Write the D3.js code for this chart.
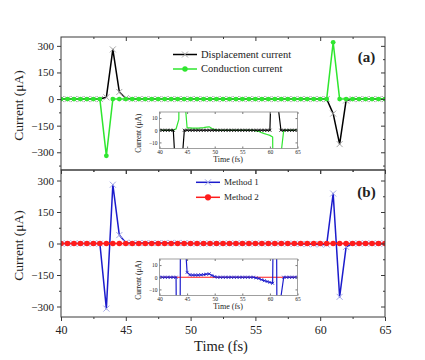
<!DOCTYPE html>
<html>
<head>
<meta charset="utf-8">
<script src="https://cdn.jsdelivr.net/npm/d3@7"></script>
<style>
  body { margin: 0; background: #fff; }
  svg text { font-family: "Liberation Serif", "Times New Roman", serif; }
</style>
</head>
<body>
<div id="chart"></div>
<script>
// time axis, 0.5 fs steps
let times = [40, 40.5, 41, 41.5, 42, 42.5, 43, 43.5, 44, 44.5,
             45, 45.5, 46, 46.5, 47, 47.5, 48, 48.5, 49, 49.5,
             50, 50.5, 51, 51.5, 52, 52.5, 53, 53.5, 54, 54.5,
             55, 55.5, 56, 56.5, 57, 57.5, 58, 58.5, 59, 59.5,
             60, 60.5, 61, 61.5, 62, 62.5, 63, 63.5, 64, 64.5, 65];

// panel (a)
let displacement = [0, 0, 0, 0, 0, 0, 0, 10, 280, 40,
                    5, 0, 0, 0, 0, 0, 0, 0, 0, 0,
                    0, 0, 0, 0, 0, 0, 0, 0, 0, 0,
                    0, 0, 0, 0, 0, 0, 0, 0, 0, 0,
                    0, 0, -82, -254, -8, 0, 0, 0, 0, 0, 0];
let conduction = [0, 0, 0, 0, 0, 0, 0, -320, 0, 0,
                  0, 0, 0, 0, 0, 0, 0, 0, 0, 0,
                  0, 0, 0, 0, 0, 0, 0, 0, 0, 0,
                  0, 0, 0, 0, 0, 0, 0, 0, 0, 0,
                  0, 0, 320, 0, 0, 0, 0, 0, 0, 0, 0];
// inset of (a)
let displacementInset = [0, 0, 0, 0, 0, 0, -40, -280, -30, 0,
                         0, 0, 0, 0, 0, 0, 0, 0, 0, 0,
                         0, 0, 0, 0, 0, 0, 0, 0, 0, 0,
                         0, 0, 0, 0, 0, 0, 0, 0, 0, 0,
                         0, 80, 250, 19, 0, 0, 0, 0, 0, 0, 0];
let conductionInset = [0, 0, 0, 0, 0, 0, 1, 9, 300, 30,
                       2, 2, 1.8, 1.8, 1.8, 2, 2.2, 2.5, 2.8, 1.5,
                       0.5, 0, 0, 0, 0, 0, 0, 0, 0, 0,
                       0, 0, 0, 0, 0, -0.5, -1, -2, -2.8, -3.5,
                       -4.2, -5.5, -300, -150, -20, 0, 0, 0, 0, 0, 0];

// panel (b)
let method1 = [0, 0, 0, 0, 0, 0, 0, -310, 280, 40,
               4, 2, 1.8, 1.8, 1.8, 2, 2.2, 2.5, 2.8, 1.5,
               0.5, 0, 0, 0, 0, 0, 0, 0, 0, 0,
               0, 0, 0, 0, 0, -0.5, -1, -2, -2.8, -3.5,
               -4.2, -5, 238, -254, -16, 0, 0, 0, 0, 0, 0];
let method2 = [0, 0, 0, 0, 0, 0, 0, 0, 0, 0,
               0, 0, 0, 0, 0, 0, 0, 0, 0, 0,
               0, 0, 0, 0, 0, 0, 0, 0, 0, 0,
               0, 0, 0, 0, 0, 0, 0, 0, 0, 0,
               0, 0, 0, 0, 0, 0, 0, 0, 0, 0, 0];

let X_TICKS = [40, 45, 50, 55, 60, 65];
let X_MINOR = [42.5, 47.5, 52.5, 57.5, 62.5];
let Y_TICKS = [-300, -150, 0, 150, 300];
let Y_MINOR = [-375, -225, -75, 75, 225];
let INSET_Y_TICKS = [-10, 0, 10];

let kColors = {
  "black": "#000",
  "blackMark": "#a8a8a8",
  "green": "#2fe62f",
  "blue": "#1c1ccc",
  "blueMark": "#a3a8e6",
  "red": "#ff1c1c",
  "axis": "#3a3a3a",
  "text": "#222"
};

let W = 425, H = 360;
let kPlot = { "x": 61, "w": 324 };

let svg = d3.select("#chart").append("svg")
  .attr("width", W).attr("height", H);

let x = d3.scaleLinear().domain([40, 65]).range([kPlot.x, kPlot.x + kPlot.w]);


function crossPath(s){
  return "M" + (-s) + "," + (-s) + "L" + s + "," + s + "M" + (-s) + "," + s + "L" + s + "," + (-s);
}


function addClip(id, x0, y0, w, h){
  svg.append("clipPath").attr("id", id)
    .append("rect").attr("x", x0).attr("y", y0).attr("width", w).attr("height", h);
}


function drawSeries(g, xs, ys, values, st){
  let pts = times.map((t, i) => [xs(t), ys(values[i])]);
  g.append("path")
    .attr("d", d3.line()(pts))
    .attr("fill", "none")
    .attr("stroke", st.color)
    .attr("stroke-width", st.width)
    .attr("stroke-linejoin", "round");

  if (st.marker === "cross") {
    g.selectAll(null).data(pts).enter().append("path")
      .attr("transform", d => "translate(" + d[0] + "," + d[1] + ")")
      .attr("d", crossPath(st.size))
      .attr("stroke", st.markColor)
      .attr("stroke-width", st.markWidth)
      .attr("fill", "none");
  } else {
    g.selectAll(null).data(pts).enter().append("circle")
      .attr("cx", d => d[0]).attr("cy", d => d[1])
      .attr("r", st.size)
      .attr("fill", st.color);
  }
}


function styleAxis(sel, fontSize){
  sel.select(".domain").remove();
  sel.selectAll(".tick line").attr("stroke", kColors.axis);
  sel.selectAll(".tick text")
    .attr("fill", kColors.text)
    .style("font-size", fontSize + "px")
    .style("font-family", "'Liberation Serif', serif");
}


function drawFrame(y, top, h, showXLabels){
  let g = svg.append("g");
  let bottom = top + h;
  let right = kPlot.x + kPlot.w;

  // left: outward ticks
  g.append("g").attr("transform", "translate(" + kPlot.x + ",0)")
    .call(d3.axisLeft(y).tickValues(Y_MINOR.filter(v => y(v) > top && y(v) < bottom)).tickSize(2).tickFormat(""))
    .call(s => styleAxis(s, 11));
  g.append("g").attr("transform", "translate(" + kPlot.x + ",0)")
    .call(d3.axisLeft(y).tickValues(Y_TICKS).tickSize(4).tickPadding(3).tickFormat(d3.format("d")))
    .call(s => styleAxis(s, 11));

  // right: inward ticks
  g.append("g").attr("transform", "translate(" + right + ",0)")
    .call(d3.axisRight(y).tickValues(Y_MINOR.filter(v => y(v) > top && y(v) < bottom)).tickSize(-2).tickFormat(""))
    .call(s => styleAxis(s, 11));
  g.append("g").attr("transform", "translate(" + right + ",0)")
    .call(d3.axisRight(y).tickValues(Y_TICKS).tickSize(-4).tickFormat(""))
    .call(s => styleAxis(s, 11));

  // top: inward ticks
  g.append("g").attr("transform", "translate(0," + top + ")")
    .call(d3.axisTop(x).tickValues(X_MINOR).tickSize(-2).tickFormat(""))
    .call(s => styleAxis(s, 11));
  g.append("g").attr("transform", "translate(0," + top + ")")
    .call(d3.axisTop(x).tickValues(X_TICKS.slice(1, -1)).tickSize(-4).tickFormat(""))
    .call(s => styleAxis(s, 11));

  // bottom: outward ticks
  g.append("g").attr("transform", "translate(0," + bottom + ")")
    .call(d3.axisBottom(x).tickValues(X_MINOR).tickSize(2).tickFormat(""))
    .call(s => styleAxis(s, 11));
  g.append("g").attr("transform", "translate(0," + bottom + ")")
    .call(d3.axisBottom(x).tickValues(X_TICKS).tickSize(4).tickPadding(4)
      .tickFormat(showXLabels ? d3.format("d") : ""))
    .call(s => styleAxis(s, 12));

  g.append("rect")
    .attr("x", kPlot.x).attr("y", top)
    .attr("width", kPlot.w).attr("height", h)
    .attr("fill", "none").attr("stroke", kColors.axis).attr("stroke-width", 1);

  // y title
  svg.append("text")
    .attr("transform", "translate(23," + (top + h / 2 + 2) + ") rotate(-90)")
    .attr("text-anchor", "middle")
    .style("font-size", "13.5px")
    .attr("fill", kColors.text)
    .text("Current (\u03bcA)");
}


function drawInset(top, h, series){
  let ix = d3.scaleLinear().domain([40, 65]).range([159.5, 297.5]);
  let iy = d3.scaleLinear().domain([-15, 15]).range([top + h, top]);
  let id = "clip-inset-" + top;
  addClip(id, 159.5, top, 138, h);

  svg.append("rect")
    .attr("x", 159.5).attr("y", top).attr("width", 138).attr("height", h)
    .attr("fill", "#fff");

  let g = svg.append("g").attr("clip-path", "url(#" + id + ")");
  series.forEach(s => drawSeries(g, ix, iy, s.values, s.style));

  let ga = svg.append("g");
  ga.append("g").attr("transform", "translate(0," + (top + h) + ")")
    .call(d3.axisBottom(ix).tickValues(X_TICKS).tickSize(-2).tickPadding(1.5).tickFormat(d3.format("d")))
    .call(s => styleAxis(s, 5.5));
  ga.append("g").attr("transform", "translate(0," + top + ")")
    .call(d3.axisTop(ix).tickValues(X_TICKS).tickSize(-2).tickFormat(""))
    .call(s => styleAxis(s, 5.5));
  ga.append("g").attr("transform", "translate(159.5,0)")
    .call(d3.axisLeft(iy).tickValues(INSET_Y_TICKS).tickSize(-2).tickPadding(2).tickFormat(d3.format("d")))
    .call(s => styleAxis(s, 5.5));
  ga.append("g").attr("transform", "translate(297.5,0)")
    .call(d3.axisRight(iy).tickValues(INSET_Y_TICKS).tickSize(-2).tickFormat(""))
    .call(s => styleAxis(s, 5.5));
  ga.selectAll(".tick line").attr("stroke", "#777");

  svg.append("rect")
    .attr("x", 159.5).attr("y", top).attr("width", 138).attr("height", h)
    .attr("fill", "none").attr("stroke", "#888").attr("stroke-width", 0.8);

  svg.append("text")
    .attr("x", 228).attr("y", top + h + 13)
    .attr("text-anchor", "middle")
    .style("font-size", "8px")
    .attr("fill", kColors.text)
    .text("Time (fs)");

  svg.append("text")
    .attr("transform", "translate(140.5," + (top + h / 2 + 3) + ") rotate(-90)")
    .attr("text-anchor", "middle")
    .style("font-size", "7.5px")
    .attr("fill", kColors.text)
    .text("Current (\u03bcA)");
}


function drawLegend(items, lx, ly, dy, fontSize){
  items.forEach((it, i) => {
    let yy = ly + i * dy;
    let g = svg.append("g");
    g.append("line")
      .attr("x1", lx).attr("x2", lx + 24).attr("y1", yy).attr("y2", yy)
      .attr("stroke", it.style.color).attr("stroke-width", 1.5);
    if (it.style.marker === "cross") {
      g.append("path")
        .attr("transform", "translate(" + (lx + 12) + "," + yy + ")")
        .attr("d", crossPath(3))
        .attr("stroke", it.style.markColor).attr("stroke-width", 1).attr("fill", "none");
    } else {
      g.append("circle").attr("cx", lx + 12).attr("cy", yy).attr("r", it.style.size + 0.3)
        .attr("fill", it.style.color);
    }
    svg.append("text")
      .attr("x", lx + 28).attr("y", yy + fontSize * 0.33)
      .style("font-size", fontSize + "px")
      .attr("fill", kColors.text)
      .text(it.label);
  });
}


// ---- panel (a)
let yA = d3.scaleLinear().domain([-400, 350]).range([170, 37]);
addClip("clip-a", kPlot.x, 37, kPlot.w, 133);

let styleDisp = { color: kColors.black, width: 1.5, marker: "cross", size: 3, markColor: kColors.blackMark, markWidth: 1 };
let styleCond = { color: kColors.green, width: 1.5, marker: "circle", size: 2.4 };
let styleM1   = { color: kColors.blue, width: 1.5, marker: "cross", size: 3, markColor: kColors.blueMark, markWidth: 1 };
let styleM2   = { color: kColors.red, width: 1.5, marker: "circle", size: 2.8 };

let gA = svg.append("g").attr("clip-path", "url(#clip-a)");
drawSeries(gA, x, yA, displacement, styleDisp);
drawSeries(gA, x, yA, conduction, styleCond);
drawFrame(yA, 37, 133, false);

drawInset(112, 36.5, [
  { values: conductionInset, style: { color: kColors.green, width: 1.2, marker: "circle", size: 0.01 } },
  { values: displacementInset, style: { color: kColors.black, width: 1.2, marker: "cross", size: 1.5, markColor: kColors.black, markWidth: 0.8 } }
]);

drawLegend([
  { label: "Displacement current", style: styleDisp },
  { label: "Conduction current", style: styleCond }
], 173, 54.5, 14.5, 10.5);

svg.append("text")
  .attr("x", 366.5).attr("y", 61.5)
  .attr("text-anchor", "middle")
  .style("font-size", "15px").style("font-weight", "bold")
  .attr("fill", kColors.text)
  .text("(a)");

// ---- panel (b)
let yB = d3.scaleLinear().domain([-350, 350]).range([317, 170]);
addClip("clip-b", kPlot.x, 170, kPlot.w, 147);

let gB = svg.append("g").attr("clip-path", "url(#clip-b)");
drawSeries(gB, x, yB, method1, styleM1);
drawSeries(gB, x, yB, method2, styleM2);
drawFrame(yB, 170, 147, true);

drawInset(259, 36.5, [
  { values: method2, style: { color: kColors.red, width: 1.2, marker: "circle", size: 0.01 } },
  { values: method1, style: { color: kColors.blue, width: 1.2, marker: "cross", size: 1.5, markColor: kColors.blue, markWidth: 0.8 } }
]);

drawLegend([
  { label: "Method 1", style: styleM1 },
  { label: "Method 2", style: styleM2 }
], 196, 182.3, 15, 9);

svg.append("text")
  .attr("x", 366.5).attr("y", 196.5)
  .attr("text-anchor", "middle")
  .style("font-size", "15px").style("font-weight", "bold")
  .attr("fill", kColors.text)
  .text("(b)");

// x title
svg.append("text")
  .attr("x", kPlot.x + kPlot.w / 2 - 2).attr("y", 351)
  .attr("text-anchor", "middle")
  .style("font-size", "14.5px")
  .attr("fill", kColors.text)
  .text("Time (fs)");
</script>
</body>
</html>
